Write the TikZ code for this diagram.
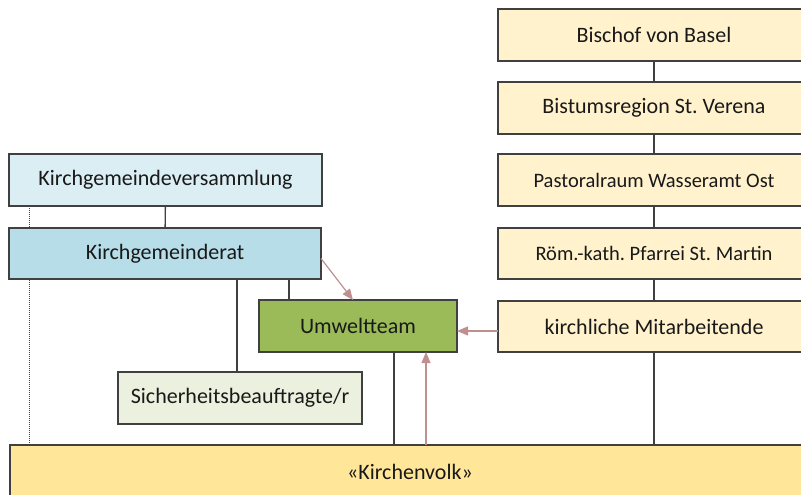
\documentclass[tikz,border=0pt]{standalone}
\usepackage{fontspec}
\setmainfont{Carlito}
\frenchspacing
\usetikzlibrary{arrows.meta,backgrounds,calc}
\definecolor{edge}{HTML}{404040}
\definecolor{kgvfill}{HTML}{DAEEF3}
\definecolor{kgrfill}{HTML}{B7DDE8}
\definecolor{umwfill}{HTML}{9BBB59}
\definecolor{sichfill}{HTML}{EBF1DE}
\definecolor{bisfill}{HTML}{FFF2CC}
\definecolor{volkfill}{HTML}{FFE699}
\definecolor{arr}{HTML}{C09090}
\tikzset{
  box/.style={draw=edge, line width=1.3pt, inner sep=0pt, outer sep=0pt, align=center,
    font=\fontsize{22}{26}\selectfont, text=black!90},
  smallbox/.style={box, font=\fontsize{20.5}{24}\selectfont},
  conn/.style={draw=edge, line width=1.4pt},
  redarr/.style={draw=arr, line width=1.2pt, -{Triangle[length=11pt,width=9pt]}},
}
\begin{document}
\begin{tikzpicture}[x=1pt,y=-1pt]
\useasboundingbox (0,0) rectangle (801,495);
% right column
\node[box, fill=bisfill, minimum width=312, minimum height=52] (bischof) at (654,35) {Bischof von Basel};
\node[box, fill=bisfill, minimum width=312, minimum height=52] (bistum) at (654,108) {Bistumsregion St. Verena};
\node[smallbox, fill=bisfill, minimum width=312, minimum height=52] (pastoral) at (654,180) {Pastoralraum Wasseramt Ost};
\node[smallbox, fill=bisfill, minimum width=312, minimum height=51] (roem) at (654,253.5) {Röm.-kath. Pfarrei St. Martin};
\node[box, fill=bisfill, minimum width=312, minimum height=51] (kirchl) at (654,326.5) {kirchliche Mitarbeitende};
% left side
\node[box, fill=kgvfill, minimum width=313, minimum height=52] (kgv) at (165.5,180) {Kirchgemeindeversammlung};
\node[box, fill=kgrfill, minimum width=312, minimum height=51] (kgr) at (165,253.5) {Kirchgemeinderat};
\node[box, fill=umwfill, minimum width=198, minimum height=52] (umw) at (358,326) {Umweltteam};
\node[box, fill=sichfill, minimum width=244, minimum height=52] (sich) at (240,398) {Sicherheitsbeauftragte/r};
\node[box, fill=volkfill, minimum width=800, minimum height=54] (volk) at (410,472) {«Kirchenvolk»};
% connectors
\begin{scope}[on background layer]
\draw[conn] (bischof) -- (bistum);
\draw[conn] (bistum) -- (pastoral);
\draw[conn] (pastoral) -- (roem);
\draw[conn] (roem) -- (kirchl);
\draw[conn] (kirchl.south) -- (kirchl.south |- volk.north);
\draw[conn] (kgv) -- (kgr);
\draw[draw=edge, line width=1pt, densely dotted] (kgv.south -| 29,0) -- (volk.north -| 29,0);
\draw[conn] (kgr.south -| 237,0) -- (sich.north -| 237,0);
\draw[conn] (kgr.south -| 289,0) -- (umw.north -| 289,0);
\draw[conn] (umw.south -| 394,0) -- (volk.north -| 394,0);
\end{scope}
\draw[redarr] ($(kgr.east)+(0,5)$) -- (umw.north -| 353,0);
\draw[redarr] ($(kirchl.west)+(0,4.5)$) -- ($(umw.east)+(0,5)$);
\draw[redarr] (volk.north -| 426,0) -- (umw.south -| 426,0);
\end{tikzpicture}
\end{document}
